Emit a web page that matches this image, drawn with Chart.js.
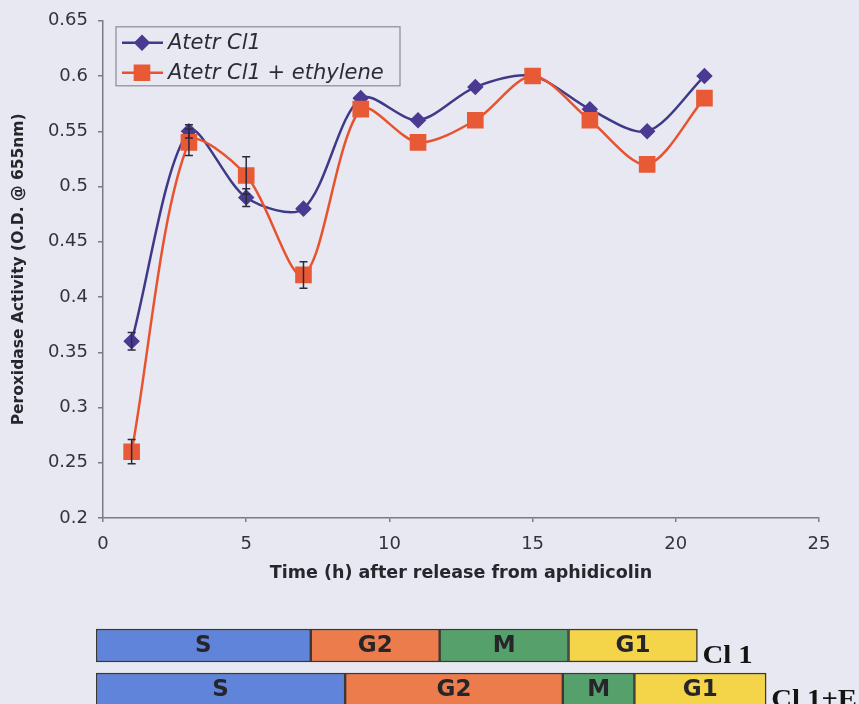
<!DOCTYPE html>
<html>
<head>
<meta charset="utf-8">
<script src="https://cdn.jsdelivr.net/npm/chart.js@4.4.1/dist/chart.umd.min.js"></script>
<style>
  html, body { margin: 0; padding: 0; background: #e8e8f2; overflow: hidden; }
  #wrap { position: relative; width: 859px; height: 704px; }
  #lineChart { position: absolute; left: 0; top: 0; }
  #phaseChart { position: absolute; left: 0; top: 620px; }
</style>
</head>
<body>
<div id="wrap">
  <canvas id="lineChart" width="859" height="600"></canvas>
  <canvas id="phaseChart" width="859" height="100"></canvas>
</div>
<script>
// time points (h after release from aphidicolin)
const hours = [1, 3, 5, 7, 9, 11, 13, 15, 17, 19, 21];
const cl1 = [0.36, 0.55, 0.49, 0.48, 0.58, 0.56, 0.59, 0.60, 0.57, 0.55, 0.60];
const cl1Err = [0.008, 0.006, 0.008, 0, 0, 0, 0, 0, 0, 0, 0];
const cl1Eth = [0.26, 0.54, 0.51, 0.42, 0.57, 0.54, 0.56, 0.60, 0.56, 0.52, 0.58];
const cl1EthErr = [0.011, 0.012, 0.017, 0.012, 0, 0, 0, 0, 0, 0, 0];
const seriesNames = ['Atetr Cl1', 'Atetr Cl1 + ethylene'];

// cell cycle phase lengths (h), rows: Cl 1, Cl 1+E
const strains = ['Cl 1', 'Cl 1+E'];
const phases = ['S', 'G2', 'M', 'G1'];
const sPhase = [7.5, 8.7];
const g2Phase = [4.5, 7.6];
const mPhase = [4.5, 2.5];
const g1Phase = [4.5, 4.6];

const BLUE = '#3f3a88';
const RED = '#e8532f';
const AXIS = '#7b7b86';
const TICK_FONT = { family: 'DejaVu Sans', size: 18 };

// error bars drawn through the scales
const errorBars = {
    id: 'errorBars',
    afterDatasetsDraw(chart) {
        const ctx = chart.ctx;
        const xs = chart.scales.x, ys = chart.scales.y;
        chart.data.datasets.forEach(ds => {
            if (!ds.errors) return;
            ctx.save();
            ctx.strokeStyle = '#2b2a3c';
            ctx.lineWidth = 1.5;
            ds.data.forEach((p, j) => {
                const e = ds.errors[j];
                if (!e) return;
                const x = xs.getPixelForValue(p.x);
                const y1 = ys.getPixelForValue(p.y + e);
                const y2 = ys.getPixelForValue(p.y - e);
                ctx.beginPath();
                ctx.moveTo(x, y1); ctx.lineTo(x, y2);
                ctx.moveTo(x - 4, y1); ctx.lineTo(x + 4, y1);
                ctx.moveTo(x - 4, y2); ctx.lineTo(x + 4, y2);
                ctx.stroke();
            });
            ctx.restore();
        });
    }
};

// boxed legend inside the plot area
const boxLegend = {
    id: 'boxLegend',
    afterDraw(chart) {
        const ctx = chart.ctx;
        const area = chart.chartArea;
        const x0 = area.left + 13, y0 = area.top + 6;
        ctx.save();
        ctx.strokeStyle = '#8a8a94';
        ctx.lineWidth = 1.2;
        ctx.strokeRect(x0, y0, 284, 59);
        chart.data.datasets.forEach((ds, i) => {
            const y = y0 + 16 + i * 30;
            ctx.strokeStyle = ds.borderColor;
            ctx.lineWidth = 2.5;
            ctx.beginPath();
            ctx.moveTo(x0 + 6, y); ctx.lineTo(x0 + 47, y);
            ctx.stroke();
            ctx.fillStyle = ds.pointBackgroundColor;
            ctx.strokeStyle = ds.pointBorderColor;
            Chart.helpers.drawPoint(ctx, { pointStyle: ds.pointStyle, radius: ds.pointRadius, borderWidth: 1 }, x0 + 26, y);
            ctx.fillStyle = '#2c2c34';
            ctx.font = 'italic 21px "DejaVu Sans"';
            ctx.textBaseline = 'middle';
            ctx.fillText(seriesNames[i], x0 + 52, y + 1);
        });
        ctx.restore();
    }
};

new Chart(document.getElementById('lineChart'), {
    type: 'line',
    data: {
        datasets: [
            {
                label: seriesNames[0],
                data: hours.map((h, i) => ({ x: h, y: cl1[i] })),
                errors: cl1Err,
                borderColor: BLUE,
                borderWidth: 2.5,
                pointStyle: 'rectRot',
                pointRadius: 6.5,
                pointBackgroundColor: '#4a3a92',
                pointBorderColor: '#4a3a92',
                tension: 0.3,
                order: 1
            },
            {
                label: seriesNames[1],
                data: hours.map((h, i) => ({ x: h, y: cl1Eth[i] })),
                errors: cl1EthErr,
                borderColor: RED,
                borderWidth: 2.5,
                pointStyle: 'rect',
                pointRadius: 10,
                pointBackgroundColor: '#e85a36',
                pointBorderColor: '#e85a36',
                tension: 0.3,
                order: 0
            }
        ]
    },
    options: {
        responsive: false,
        animation: false,
        layout: { padding: { top: 20, right: 40, left: 0, bottom: 0 } },
        plugins: { legend: { display: false }, tooltip: { enabled: false } },
        scales: {
            x: {
                type: 'linear',
                min: 0, max: 25,
                afterFit: scale => { scale.height = 82; },
                ticks: { stepSize: 5, font: TICK_FONT, color: '#33333b', padding: 12, maxRotation: 0 },
                grid: { drawOnChartArea: false, tickLength: 4, color: AXIS, lineWidth: 1.5 },
                border: { color: AXIS, width: 1.5 },
                title: {
                    display: true,
                    text: 'Time (h) after release from aphidicolin',
                    font: { family: 'DejaVu Sans', size: 17.5, weight: 'bold' },
                    color: '#26262c',
                    padding: { top: 16, bottom: 16 }
                }
            },
            y: {
                min: 0.2, max: 0.65,
                afterFit: scale => { scale.width = 103; },
                ticks: {
                    stepSize: 0.05, font: TICK_FONT, color: '#33333b', padding: 10,
                    callback: v => String(+v.toFixed(2))
                },
                grid: { drawOnChartArea: false, tickLength: 5, color: AXIS, lineWidth: 1.5 },
                border: { color: AXIS, width: 1.5 },
                title: {
                    display: true,
                    text: 'Peroxidase Activity (O.D. @ 655nm)',
                    font: { family: 'DejaVu Sans', size: 15.5, weight: 'bold' },
                    color: '#26262c',
                    padding: { top: 10, bottom: 10 }
                }
            }
        }
    },
    plugins: [errorBars, boxLegend]
});

// phase names inside the bars, strain names after them
const phaseLabels = {
    id: 'phaseLabels',
    afterDatasetsDraw(chart) {
        const ctx = chart.ctx;
        ctx.save();
        ctx.textAlign = 'center';
        ctx.textBaseline = 'middle';
        ctx.fillStyle = '#26262a';
        ctx.font = 'bold 23px "DejaVu Sans"';
        chart.data.datasets.forEach((ds, i) => {
            chart.getDatasetMeta(i).data.forEach(bar => {
                ctx.fillText(ds.label, (bar.x + bar.base) / 2, bar.y + 1);
            });
        });
        const last = chart.getDatasetMeta(chart.data.datasets.length - 1).data;
        ctx.textAlign = 'left';
        ctx.textBaseline = 'alphabetic';
        ctx.fillStyle = '#141414';
        ctx.font = 'bold 25px "Liberation Serif"';
        last.forEach((bar, r) => {
            ctx.save();
            ctx.translate(bar.x + 5, bar.y + 17);
            ctx.scale(1.15, 1);
            ctx.fillText(strains[r], 0, 0);
            ctx.restore();
        });
        ctx.restore();
    }
};

const phaseData = [sPhase, g2Phase, mPhase, g1Phase];
const phaseColors = ['#5f84da', '#ec7c4c', '#56a06c', '#f4d448'];

new Chart(document.getElementById('phaseChart'), {
    type: 'bar',
    data: {
        labels: strains,
        datasets: phases.map((p, i) => ({
            label: p,
            data: phaseData[i],
            backgroundColor: phaseColors[i],
            borderColor: '#3b3733',
            borderWidth: 1.5,
            borderSkipped: false,
            barThickness: 33
        }))
    },
    options: {
        indexAxis: 'y',
        responsive: false,
        animation: false,
        layout: { padding: { left: 96, right: 18.4, top: 3.5, bottom: 8.5 } },
        plugins: { legend: { display: false }, tooltip: { enabled: false } },
        scales: {
            x: { stacked: true, min: 0, max: 26, display: false },
            y: { stacked: true, display: false }
        }
    },
    plugins: [phaseLabels]
});
</script>
</body>
</html>
